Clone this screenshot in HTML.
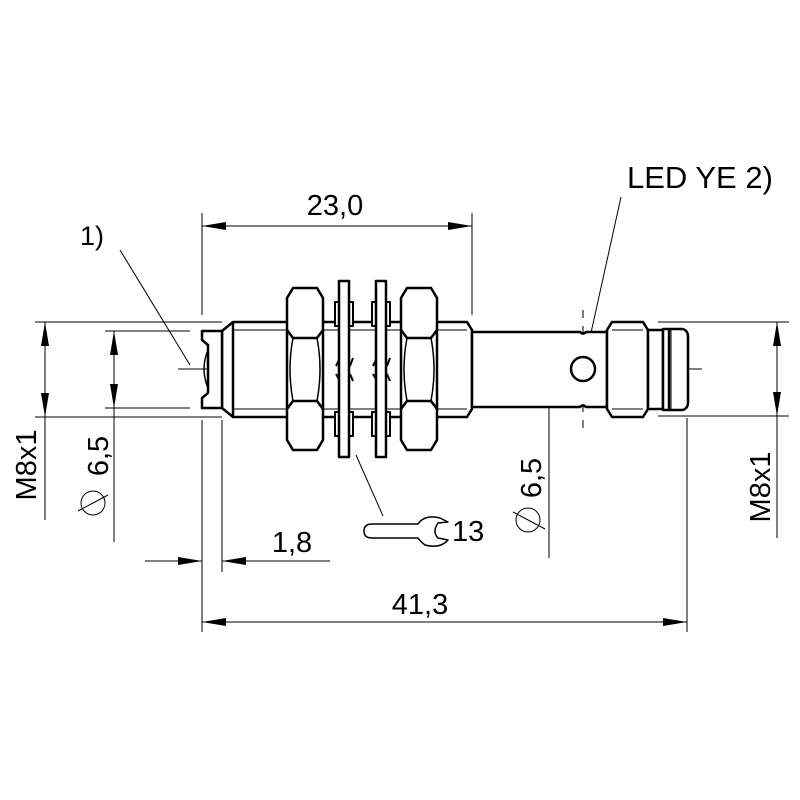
<!DOCTYPE html>
<html><head><meta charset="utf-8"><style>html,body{margin:0;padding:0;background:#fff}svg{display:block}text{font-family:"Liberation Sans",sans-serif;fill:#000}</style></head>
<body>
<svg width="800" height="800" viewBox="0 0 800 800" xmlns="http://www.w3.org/2000/svg">
<defs>
<marker id="a" viewBox="0 0 24 8" refX="24" refY="4" markerWidth="24" markerHeight="8" markerUnits="userSpaceOnUse" orient="auto-start-reverse"><path d="M0,0 L24,4 L0,8 Z" fill="#000"/></marker>
</defs>
<g stroke="#000" stroke-width="1" fill="none">
<line x1="202" y1="213" x2="202" y2="315"/>
<line x1="472" y1="213" x2="472" y2="315"/>
<line x1="202" y1="226" x2="472" y2="226" marker-start="url(#a)" marker-end="url(#a)"/>
<line x1="202" y1="420" x2="202" y2="632"/>
<line x1="222" y1="420" x2="222" y2="572"/>
<line x1="687" y1="418" x2="687" y2="632"/>
<line x1="202" y1="622" x2="687" y2="622" marker-start="url(#a)" marker-end="url(#a)"/>
<line x1="145" y1="561" x2="202" y2="561" marker-end="url(#a)"/>
<line x1="330" y1="561" x2="222" y2="561" marker-end="url(#a)"/>
<line x1="35" y1="322" x2="222" y2="322"/>
<line x1="35" y1="417" x2="222" y2="417"/>
<line x1="45" y1="369" x2="45" y2="322" marker-end="url(#a)"/>
<line x1="45" y1="369" x2="45" y2="417" marker-end="url(#a)"/>
<line x1="45" y1="417" x2="45" y2="520"/>
<line x1="105" y1="331" x2="190" y2="331"/>
<line x1="105" y1="408" x2="190" y2="408"/>
<line x1="114" y1="369" x2="114" y2="331" marker-end="url(#a)"/>
<line x1="114" y1="369" x2="114" y2="408" marker-end="url(#a)"/>
<line x1="114" y1="408" x2="114" y2="542"/>
<line x1="549" y1="369" x2="549" y2="332" marker-end="url(#a)"/>
<line x1="549" y1="369" x2="549" y2="407" marker-end="url(#a)"/>
<line x1="549" y1="407" x2="549" y2="558"/>
<line x1="658" y1="322" x2="789" y2="322"/>
<line x1="658" y1="416" x2="789" y2="416"/>
<line x1="777" y1="369" x2="777" y2="322" marker-end="url(#a)"/>
<line x1="777" y1="369" x2="777" y2="416" marker-end="url(#a)"/>
<line x1="777" y1="416" x2="777" y2="538"/>
<line x1="178" y1="369" x2="308" y2="369"/>
<line x1="325" y1="369" x2="528" y2="369"/>
<line x1="540" y1="369" x2="558" y2="369"/>
<line x1="565" y1="369" x2="702" y2="369"/>
<line x1="583" y1="310" x2="583" y2="318"/><line x1="583" y1="326" x2="583" y2="340"/>
<line x1="583" y1="398" x2="583" y2="412"/><line x1="583" y1="420" x2="583" y2="428"/>
<line x1="120" y1="250" x2="190" y2="365"/>
<line x1="621" y1="197" x2="583" y2="369"/>
<line x1="356" y1="455" x2="383" y2="516"/>
</g>
<g stroke="#000" stroke-width="2.5" fill="#fff" stroke-linejoin="round">
<path d="M222,331 L233,322 L467,322 L472,330 L472,409 L467,417 L233,417 L222,408 Z"/>
<line x1="233" y1="322" x2="233" y2="417"/>
<line x1="233" y1="330" x2="467" y2="330" stroke-width="1"/>
<line x1="233" y1="409" x2="467" y2="409" stroke-width="1"/>
<path d="M202,331 L222,331 L222,408 L202,408 L202,398 L208,393 L208,345 L202,340 Z"/>
<path d="M208,350 Q200,369 208,388" fill="none" stroke-width="1.5"/>
<path d="M472,332 L580,332 Q583,335 586,332 L607,332 L607,407 L586,407 Q583,404 580,407 L472,407 Z"/>
<circle cx="583" cy="369" r="12"/>
<path d="M612,322 L643,322 L648,330 L648,409 L643,417 L612,417 L607,409 L607,330 Z"/>
<line x1="612" y1="330" x2="643" y2="330" stroke-width="1"/>
<line x1="612" y1="409" x2="643" y2="409" stroke-width="1"/>
<rect x="648" y="330" width="15" height="79"/>
<path d="M663,329 L683,329 Q688,331 688,336 L688,403 Q688,408 683,410 L663,410 Z"/>
<line x1="669" y1="329" x2="669" y2="410"/>
<line x1="671" y1="329" x2="671" y2="410" stroke-width="1"/>
<path d="M293,288 L317,288 L323,298 L323,440 L317,450 L293,450 L287,440 L287,298 Z"/>
<path d="M287,330 L293,338 L317,338 L323,330 M287,409 L293,401 L317,401 L323,409" fill="none"/>
<path d="M293,338 Q287,369 293,401 M317,338 Q323,369 317,401" fill="none" stroke-width="1.5"/>
<path d="M407,288 L431,288 L437,298 L437,440 L431,450 L407,450 L401,440 L401,298 Z"/>
<path d="M401,330 L407,338 L431,338 L437,330 M401,409 L407,401 L431,401 L437,409" fill="none"/>
<path d="M407,338 Q401,369 407,401 M431,338 Q437,369 431,401" fill="none" stroke-width="1.5"/>
<g stroke-width="2">
<rect x="335" y="302" width="18" height="24"/><rect x="335" y="412" width="18" height="24"/>
<rect x="372" y="302" width="18" height="24"/><rect x="372" y="412" width="18" height="24"/>
<path d="M336,366 L340,358 M350,366 L353,358 M336,374 L340,381 M350,374 L353,381" fill="none"/>
<path d="M373,366 L377,358 M387,366 L390,358 M373,374 L377,381 M387,374 L390,381" fill="none"/>
</g>
<rect x="339" y="281" width="10" height="176"/>
<rect x="376" y="281" width="10" height="176"/>
<path d="M372,524 L418,524 Q425,514 440,518 L448,522 L438,523 Q432,532 438,538 L448,540 Q440,549 425,545 Q420,541 418,538 L372,538 Q364,538 364,531 Q364,524 372,524 Z" stroke-width="1.5"/>
</g>
<g stroke="#000" stroke-width="1" fill="none">
<circle cx="93" cy="503" r="12"/><line x1="78" y1="511" x2="108" y2="495"/>
<circle cx="528" cy="520" r="12"/><line x1="513" y1="512" x2="545" y2="529"/>
</g>
<text x="335" y="215" font-size="29" text-anchor="middle">23,0</text>
<text x="80" y="245" font-size="27">1)</text>
<text x="627" y="188" font-size="31">LED YE 2)</text>
<text x="452" y="541" font-size="29">13</text>
<text x="420" y="614" font-size="29" text-anchor="middle">41,3</text>
<text x="292" y="552" font-size="29" text-anchor="middle">1,8</text>
<text transform="translate(36,465) rotate(-90)" font-size="29" text-anchor="middle">M8x1</text>
<text transform="translate(108,456) rotate(-90)" font-size="29" text-anchor="middle">6,5</text>
<text transform="translate(541,478) rotate(-90)" font-size="29" text-anchor="middle">6,5</text>
<text transform="translate(770,487) rotate(-90)" font-size="29" text-anchor="middle">M8x1</text>
</svg>
</body></html>
